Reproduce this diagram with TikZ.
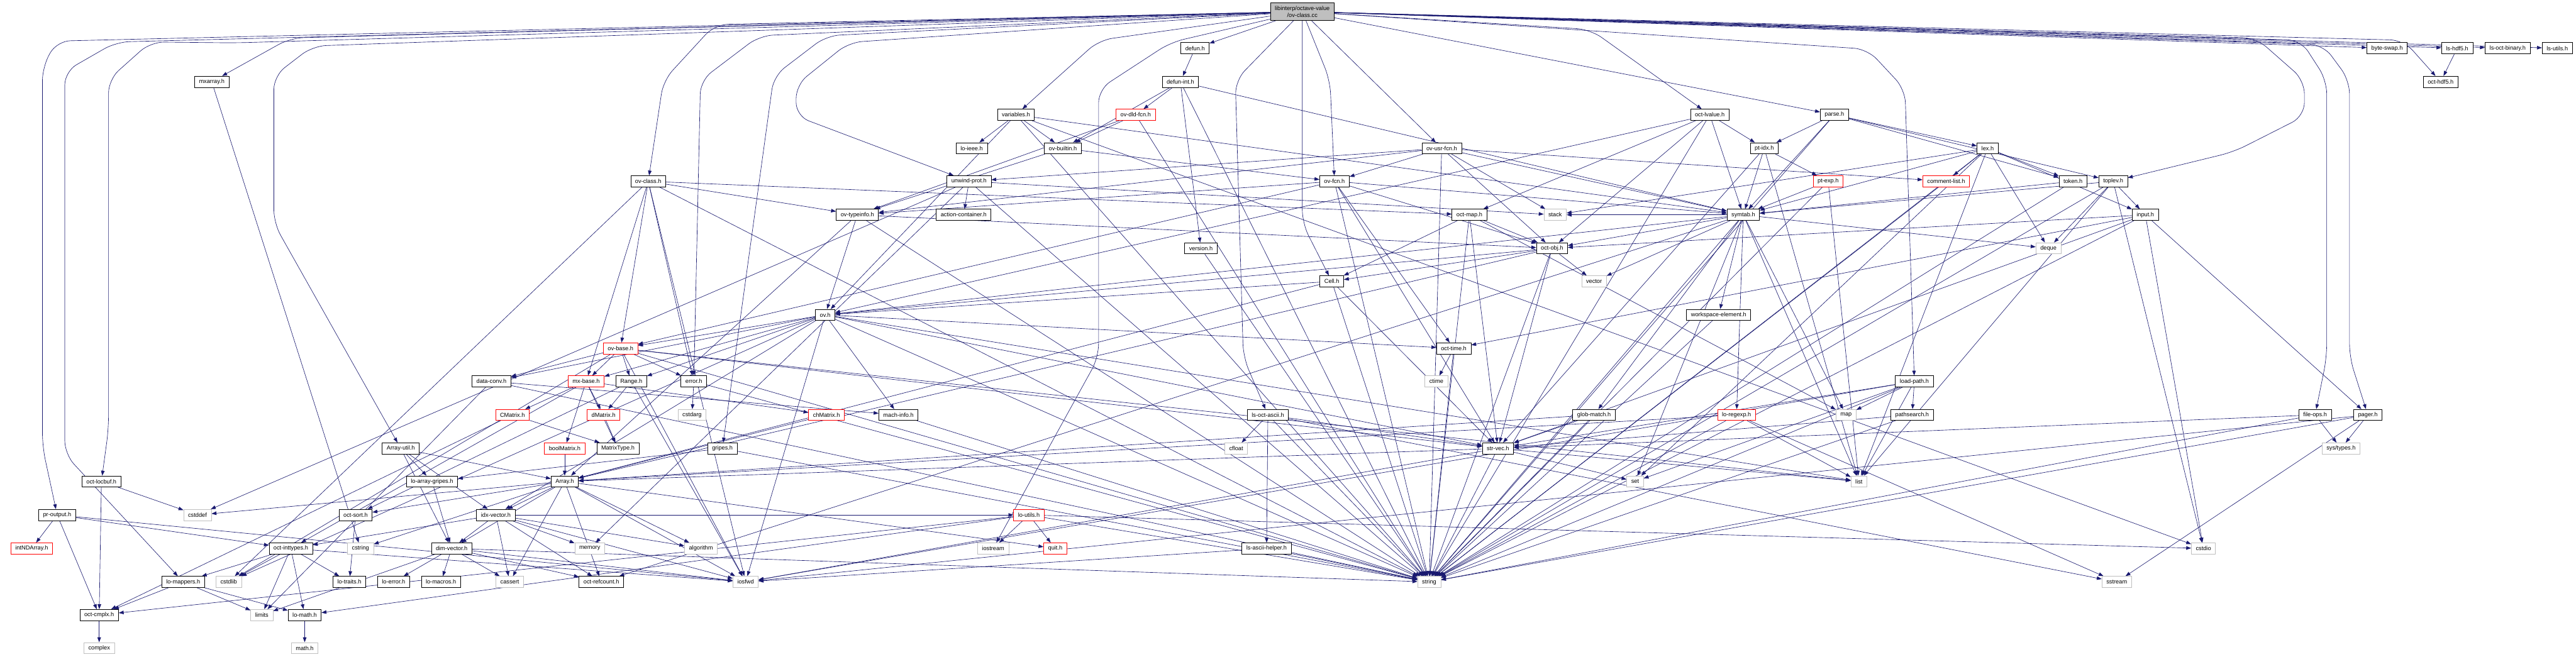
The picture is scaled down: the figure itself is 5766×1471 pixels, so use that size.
\documentclass[tikz,border=0pt]{standalone}
\usepackage{fontspec}
\setmainfont{Liberation Sans}
\usepackage{tikz}
\definecolor{edgeblue}{RGB}{25,25,112}
\definecolor{sysgray}{RGB}{191,191,191}
\definecolor{rootgray}{RGB}{191,191,191}
\usetikzlibrary{arrows.meta,backgrounds}

\begin{document}
\begin{tikzpicture}[x=1pt,y=-1pt]
		\tikzstyle{hdr}=[rectangle,draw=black,line width=1pt,fill=white,
		minimum height=25pt,inner xsep=10pt,inner ysep=0pt,
		font=\fontsize{13}{15}\selectfont]
		\tikzstyle{sys}=[hdr,draw=sysgray]
		\tikzstyle{trunc}=[hdr,draw=red]
		\tikzstyle{dep}=[draw=edgeblue,line width=0.9pt,-{Triangle[length=11pt,width=8pt]}]
		\tikzstyle{route}=[dep,rounded corners=30pt]
		\useasboundingbox (0,0) rectangle (5766,1471);
		% top ranks
		\node[hdr,fill=rootgray,align=center,inner ysep=4pt,minimum height=40pt] (root) at (2915,26) {libinterp/octave-value\\/ov-class.cc};
		\node[hdr] (defun) at (2675,108) {defun.h};
		\node[hdr] (byteswap) at (5343,108) {byte-swap.h};
		\node[hdr] (lshdf) at (5500,108) {ls-hdf5.h};
		\node[hdr] (lsoctbin) at (5613,108) {ls-oct-binary.h};
		\node[hdr] (lsutils) at (5724,108) {ls-utils.h};
		\node[hdr] (mxarray) at (474,183) {mxarray.h};
		\node[hdr] (defunint) at (2642,183) {defun-int.h};
		\node[hdr] (octhdf) at (5463,183) {oct-hdf5.h};
		\node[hdr] (variables) at (2274,257) {variables.h};
		\node[trunc] (ovdldfcn) at (2542,257) {ov-dld-fcn.h};
		\node[hdr] (octlvalue) at (3827,257) {oct-lvalue.h};
		\node[hdr] (parse) at (4106,257) {parse.h};
		\node[hdr] (loieee) at (2175,332) {lo-ieee.h};
		\node[hdr] (ovbuiltin) at (2379,332) {ov-builtin.h};
		\node[hdr] (ovusrfcn) at (3227,332) {ov-usr-fcn.h};
		\node[hdr] (ptidx) at (3949,332) {pt-idx.h};
		\node[hdr] (lex) at (4449,332) {lex.h};
		\node[hdr] (ovclass) at (1451,406) {ov-class.h};
		\node[hdr] (unwindprot) at (2169,406) {unwind-prot.h};
		\node[hdr] (ovfcn) at (2987,406) {ov-fcn.h};
		\node[trunc] (ptexp) at (4092,406) {pt-exp.h};
		\node[trunc] (commentlist) at (4356,406) {comment-list.h};
		\node[hdr] (token) at (4640,406) {token.h};
		\node[hdr] (toplev) at (4730,406) {toplev.h};
		\node[hdr] (ovtypeinfo) at (1919,481) {ov-typeinfo.h};
		\node[hdr] (actioncont) at (2157,481) {action-container.h};
		\node[hdr] (octmap) at (3289,481) {oct-map.h};
		\node[sys] (stack) at (3481,481) {stack};
		\node[hdr] (symtab) at (3902,481) {symtab.h};
		\node[hdr] (input) at (4802,481) {input.h};
		\node[hdr] (version) at (2688,556) {version.h};
		\node[hdr] (octobj) at (3474,556) {oct-obj.h};
		\node[sys] (deque) at (4585,556) {deque};
		\node[hdr] (cell) at (2981,630) {Cell.h};
		\node[sys] (vector) at (3568,630) {vector};
		\node[hdr] (ovh) at (1847,705) {ov.h};
		\node[hdr] (wselem) at (3847,705) {workspace-element.h};
		% middle ranks
		\node[trunc] (ovbase) at (1389,780) {ov-base.h};
		\node[hdr] (octtime) at (3254,780) {oct-time.h};
		\node[hdr] (dataconv) at (1100,854) {data-conv.h};
		\node[trunc] (mxbase) at (1312,854) {mx-base.h};
		\node[hdr] (range) at (1413,854) {Range.h};
		\node[hdr] (error) at (1553,854) {error.h};
		\node[sys] (ctime) at (3215,854) {ctime};
		\node[hdr] (loadpath) at (4285,854) {load-path.h};
		\node[trunc] (cmatrix) at (1147,929) {CMatrix.h};
		\node[trunc] (dmatrix) at (1351,929) {dMatrix.h};
		\node[sys] (cstdarg) at (1549,929) {cstdarg};
		\node[trunc] (chmatrix) at (1850,929) {chMatrix.h};
		\node[hdr] (machinfo) at (2011,929) {mach-info.h};
		\node[hdr] (lsoctascii) at (2838,929) {ls-oct-ascii.h};
		\node[hdr] (globmatch) at (3568,929) {glob-match.h};
		\node[trunc] (loregexp) at (3887,929) {lo-regexp.h};
		\node[sys] (map) at (4132,929) {map};
		\node[hdr] (pathsearch) at (4280,929) {pathsearch.h};
		\node[hdr] (fileops) at (5182,929) {file-ops.h};
		\node[hdr] (pager) at (5300,929) {pager.h};
		\node[hdr] (arrayutil) at (897,1004) {Array-util.h};
		\node[trunc] (boolmatrix) at (1264,1004) {boolMatrix.h};
		\node[hdr] (matrixtype) at (1383,1004) {MatrixType.h};
		\node[hdr] (gripes) at (1617,1004) {gripes.h};
		\node[sys] (cfloat) at (2767,1004) {cfloat};
		\node[hdr] (strvec) at (3353,1004) {str-vec.h};
		\node[sys] (systypes) at (5240,1004) {sys/types.h};
		\node[hdr] (octlocbuf) at (227,1078) {oct-locbuf.h};
		\node[hdr] (loarraygripes) at (967,1078) {lo-array-gripes.h};
		\node[hdr] (array) at (1264,1078) {Array.h};
		\node[sys] (set) at (3660,1078) {set};
		\node[sys] (list) at (4161,1078) {list};
		% bottom ranks
		\node[hdr] (proutput) at (128,1153) {pr-output.h};
		\node[sys] (cstddef) at (442,1153) {cstddef};
		\node[hdr] (octsort) at (796,1153) {oct-sort.h};
		\node[hdr] (idxvector) at (1110,1153) {idx-vector.h};
		\node[trunc] (loutils) at (2303,1153) {lo-utils.h};
		\node[trunc] (intndarray) at (71,1228) {intNDArray.h};
		\node[hdr] (octinttypes) at (651,1228) {oct-inttypes.h};
		\node[sys] (cstring) at (807,1228) {cstring};
		\node[hdr] (dimvector) at (1011,1228) {dim-vector.h};
		\node[sys] (memory) at (1320,1228) {memory};
		\node[sys] (algorithm) at (1569,1228) {algorithm};
		\node[sys] (iostream) at (2223,1228) {iostream};
		\node[trunc] (quit) at (2362,1228) {quit.h};
		\node[hdr] (lsasciihelper) at (2835,1228) {ls-ascii-helper.h};
		\node[sys] (cstdio) at (4932,1228) {cstdio};
		\node[hdr] (lomappers) at (410,1303) {lo-mappers.h};
		\node[sys] (cstdlib) at (512,1303) {cstdlib};
		\node[hdr] (lotraits) at (782,1303) {lo-traits.h};
		\node[hdr] (loerror) at (881,1303) {lo-error.h};
		\node[hdr] (lomacros) at (987,1303) {lo-macros.h};
		\node[sys] (cassert) at (1141,1303) {cassert};
		\node[hdr] (octrefcount) at (1346,1303) {oct-refcount.h};
		\node[sys] (iosfwd) at (1669,1303) {iosfwd};
		\node[sys] (string) at (3199,1303) {string};
		\node[sys] (sstream) at (4738,1303) {sstream};
		\node[hdr] (octcmplx) at (222,1377) {oct-cmplx.h};
		\node[sys] (limits) at (586,1377) {limits};
		\node[hdr] (lomath) at (682,1377) {lo-math.h};
		\node[sys] (complex) at (222,1451) {complex};
		\node[sys] (mathh) at (682,1451) {math.h};
		\begin{scope}[on background layer]
		\fill[white] (0,0) rectangle (5766,1471);
		% includes of the source file
		\draw[route] (root) -- (650,85) -- (mxarray);
		\draw[route] (root) -- (127,92) -- (95,150) -- (95,1000) -- (proutput);
		\draw[route] (root) -- (260,94) -- (145,160) -- (145,1017) -- (lomappers);
		\draw[route] (root) -- (527,96) -- (337,94) -- (243,178) -- (243,960) -- (octlocbuf);
		\draw[route] (root) -- (700,103) -- (613,170) -- (613,500) -- (arrayutil);
		\draw[route] (root) -- (1600,55) -- (1485,180) -- (ovclass);
		\draw[route] (root) -- (1700,80) -- (1568,180) -- (error);
		\draw[route] (root) -- (1850,80) -- (1732,170) -- (gripes);
		\draw[route] (root) -- (1900,95) -- (1782,190) -- (1782,260) -- (unwindprot);
		\draw[route] (root) -- (2460,90) -- (variables);
		\draw[route] (root) -- (2620,95) -- (2459,200) -- (2459,800) -- (iostream);
		\draw[dep] (root) -- (defun);
		\draw[route] (root) -- (2765,180) -- (2783,800) -- (lsoctascii);
		\draw[route] (root) -- (2915,500) -- (cell);
		\draw[route] (root) -- (2977,180) -- (ovfcn);
		\draw[dep] (root) -- (ovusrfcn);
		\draw[route] (root) -- (3560,66) -- (octlvalue);
		\draw[dep] (root) -- (parse);
		\draw[route] (root) -- (4180,110) -- (4264,200) -- (loadpath);
		\draw[route] (root) -- (5050,85) -- (5158,180) -- (5158,260) -- (5000,340) -- (toplev);
		\draw[route] (root) -- (5150,90) -- (5208,180) -- (5208,800) -- (fileops);
		\draw[route] (root) -- (5200,100) -- (5259,180) -- (5259,800) -- (pager);
		\draw[dep] (root) -- (byteswap);
		\draw[dep] (root) -- (lshdf);
		\draw[dep] (root) -- (lsoctbin);
		\draw[dep] (root) -- (lsutils);
		\draw[route] (root) -- (5380,90) -- (octhdf);
		% interpreter headers
		\draw[dep] (mxarray) -- (cstring);
		\draw[dep] (lshdf) -- (octhdf);
		\draw[dep] (defun) -- (defunint);
		\draw[dep] (defunint) -- (ovdldfcn);
		\draw[dep] (defunint) -- (ovbuiltin);
		\draw[dep] (defunint) -- (version);
		\draw[dep] (defunint) -- (string);
		\draw[dep] (defunint) -- (symtab);
		\draw[dep] (version) -- (string);
		\draw[dep] (ovdldfcn) -- (ovbuiltin);
		\draw[dep] (ovdldfcn) -- (ovtypeinfo);
		\draw[dep] (ovdldfcn) -- (string);
		\draw[dep] (variables) -- (loieee);
		\draw[dep] (variables) -- (ovbuiltin);
		\draw[dep] (variables) -- (ovh);
		\draw[dep] (variables) -- (string);
		\draw[dep] (variables) -- (symtab);
		\draw[dep] (variables) -- (cstdio);
		\draw[dep] (ovbuiltin) -- (ovfcn);
		\draw[dep] (ovbuiltin) -- (ovtypeinfo);
		\draw[dep] (unwindprot) -- (actioncont);
		\draw[dep] (unwindprot) -- (cstddef);
		\draw[dep] (unwindprot) -- (string);
		\draw[dep] (unwindprot) -- (stack);
		\draw[dep] (unwindprot) -- (memory);
		\draw[dep] (ovclass) -- (ovtypeinfo);
		\draw[dep] (ovclass) -- (ovbase);
		\draw[dep] (ovclass) -- (mxbase);
		\draw[dep] (ovclass) -- (octmap);
		\draw[dep] (ovclass) -- (cstdlib);
		\draw[dep] (ovclass) -- (iosfwd);
		\draw[dep] (ovclass) -- (string);
		\draw[dep] (ovclass) -- (error);
		\draw[dep] (ovtypeinfo) -- (ovh);
		\draw[dep] (ovtypeinfo) -- (array);
		\draw[dep] (ovtypeinfo) -- (octobj);
		\draw[dep] (ovtypeinfo) -- (string);
		\draw[dep] (ovusrfcn) -- (ovfcn);
		\draw[dep] (ovusrfcn) -- (octobj);
		\draw[dep] (ovusrfcn) -- (stack);
		\draw[dep] (ovusrfcn) -- (string);
		\draw[dep] (ovusrfcn) -- (symtab);
		\draw[dep] (ovusrfcn) -- (unwindprot);
		\draw[dep] (ovusrfcn) -- (ovtypeinfo);
		\draw[dep] (ovusrfcn) -- (commentlist);
		\draw[dep] (ovfcn) -- (octobj);
		\draw[dep] (ovfcn) -- (ovbase);
		\draw[dep] (ovfcn) -- (ovtypeinfo);
		\draw[dep] (ovfcn) -- (symtab);
		\draw[dep] (ovfcn) -- (string);
		\draw[dep] (ovfcn) -- (strvec);
		\draw[dep] (ovfcn) -- (octtime);
		\draw[dep] (octmap) -- (cell);
		\draw[dep] (octmap) -- (octobj);
		\draw[dep] (octmap) -- (strvec);
		\draw[dep] (octmap) -- (map);
		\draw[dep] (octmap) -- (string);
		\draw[dep] (octobj) -- (vector);
		\draw[dep] (octobj) -- (cell);
		\draw[dep] (octobj) -- (ovh);
		\draw[dep] (octobj) -- (strvec);
		\draw[dep] (octobj) -- (string);
		\draw[dep] (octobj) -- (array);
		\draw[dep] (cell) -- (ovh);
		\draw[dep] (cell) -- (array);
		\draw[dep] (cell) -- (strvec);
		\draw[dep] (cell) -- (string);
		\draw[dep] (octlvalue) -- (ptidx);
		\draw[dep] (octlvalue) -- (symtab);
		\draw[dep] (octlvalue) -- (octobj);
		\draw[dep] (octlvalue) -- (ovh);
		\draw[dep] (octlvalue) -- (string);
		\draw[dep] (octlvalue) -- (octmap);
		\draw[dep] (parse) -- (lex);
		\draw[dep] (parse) -- (token);
		\draw[dep] (parse) -- (symtab);
		\draw[dep] (parse) -- (string);
		\draw[dep] (parse) -- (toplev);
		\draw[dep] (parse) -- (ptidx);
		\draw[dep] (lex) -- (commentlist);
		\draw[dep] (lex) -- (token);
		\draw[dep] (lex) -- (deque);
		\draw[dep] (lex) -- (input);
		\draw[dep] (lex) -- (list);
		\draw[dep] (lex) -- (string);
		\draw[dep] (lex) -- (stack);
		\draw[dep] (lex) -- (symtab);
		\draw[dep] (lex) -- (set);
		\draw[dep] (ptidx) -- (ptexp);
		\draw[dep] (ptidx) -- (symtab);
		\draw[dep] (ptidx) -- (list);
		\draw[dep] (ptidx) -- (strvec);
		\draw[dep] (ptexp) -- (symtab);
		\draw[dep] (ptexp) -- (string);
		\draw[dep] (ptexp) -- (list);
		\draw[dep] (commentlist) -- (string);
		\draw[dep] (token) -- (symtab);
		\draw[dep] (token) -- (string);
		\draw[dep] (toplev) -- (deque);
		\draw[dep] (toplev) -- (input);
		\draw[dep] (toplev) -- (string);
		\draw[dep] (toplev) -- (cstdio);
		\draw[dep] (toplev) -- (list);
		\draw[dep] (toplev) -- (symtab);
		\draw[dep] (input) -- (cstdio);
		\draw[dep] (input) -- (string);
		\draw[dep] (input) -- (strvec);
		\draw[dep] (input) -- (octtime);
		\draw[dep] (input) -- (pager);
		\draw[dep] (input) -- (octobj);
		\draw[dep] (symtab) -- (wselem);
		\draw[dep] (symtab) -- (deque);
		\draw[dep] (symtab) -- (octobj);
		\draw[dep] (symtab) -- (ovh);
		\draw[dep] (symtab) -- (stack);
		\draw[dep] (symtab) -- (vector);
		\draw[dep] (symtab) -- (globmatch);
		\draw[dep] (symtab) -- (loregexp);
		\draw[dep] (symtab) -- (map);
		\draw[dep] (symtab) -- (list);
		\draw[dep] (symtab) -- (set);
		\draw[dep] (symtab) -- (string);
		\draw[dep] (symtab) -- (octrefcount);
		\draw[dep] (wselem) -- (string);
		% octave_value and friends
		\draw[dep] (ovh) -- (range);
		\draw[dep] (ovh) -- (dataconv);
		\draw[dep] (ovh) -- (idxvector);
		\draw[dep] (ovh) -- (machinfo);
		\draw[dep] (ovh) -- (mxbase);
		\draw[dep] (ovh) -- (octtime);
		\draw[dep] (ovh) -- (strvec);
		\draw[dep] (ovh) -- (ovbase);
		\draw[dep] (ovh) -- (cstdlib);
		\draw[dep] (ovh) -- (iosfwd);
		\draw[dep] (ovh) -- (string);
		\draw[dep] (ovh) -- (list);
		\draw[dep] (ovbase) -- (dataconv);
		\draw[dep] (ovbase) -- (mxbase);
		\draw[dep] (ovbase) -- (range);
		\draw[dep] (ovbase) -- (error);
		\draw[dep] (ovbase) -- (iosfwd);
		\draw[dep] (ovbase) -- (strvec);
		\draw[dep] (ovbase) -- (string);
		\draw[dep] (ovbase) -- (list);
		\draw[dep] (ovbase) -- (cstdlib);
		\draw[dep] (octtime) -- (ctime);
		\draw[dep] (octtime) -- (string);
		\draw[dep] (dataconv) -- (machinfo);
		\draw[dep] (dataconv) -- (limits);
		\draw[dep] (dataconv) -- (string);
		\draw[dep] (mxbase) -- (cmatrix);
		\draw[dep] (mxbase) -- (dmatrix);
		\draw[dep] (mxbase) -- (boolmatrix);
		\draw[dep] (mxbase) -- (matrixtype);
		\draw[dep] (mxbase) -- (chmatrix);
		\draw[dep] (mxbase) -- (octinttypes);
		\draw[dep] (range) -- (dmatrix);
		\draw[dep] (range) -- (octsort);
		\draw[dep] (range) -- (iosfwd);
		\draw[dep] (error) -- (cstdarg);
		\draw[dep] (error) -- (string);
		\draw[dep] (cmatrix) -- (matrixtype);
		\draw[dep] (cmatrix) -- (octcmplx);
		\draw[dep] (dmatrix) -- (matrixtype);
		\draw[dep] (boolmatrix) -- (array);
		\draw[dep] (chmatrix) -- (array);
		\draw[dep] (gripes) -- (loarraygripes);
		\draw[dep] (gripes) -- (string);
		\draw[dep] (machinfo) -- (string);
		% load/save and path headers
		\draw[dep] (loadpath) -- (map);
		\draw[dep] (loadpath) -- (list);
		\draw[dep] (loadpath) -- (pathsearch);
		\draw[dep] (loadpath) -- (strvec);
		\draw[dep] (loadpath) -- (string);
		\draw[dep] (loadpath) -- (set);
		\draw[dep] (loadpath) -- (iosfwd);
		\draw[dep] (pathsearch) -- (strvec);
		\draw[dep] (pathsearch) -- (string);
		\draw[dep] (fileops) -- (systypes);
		\draw[dep] (fileops) -- (strvec);
		\draw[dep] (fileops) -- (string);
		\draw[dep] (pager) -- (systypes);
		\draw[dep] (pager) -- (sstream);
		\draw[dep] (pager) -- (iosfwd);
		\draw[dep] (pager) -- (string);
		\draw[dep] (lsoctascii) -- (cfloat);
		\draw[dep] (lsoctascii) -- (lsasciihelper);
		\draw[dep] (lsoctascii) -- (sstream);
		\draw[dep] (lsoctascii) -- (string);
		\draw[dep] (lsoctascii) -- (strvec);
		\draw[dep] (lsasciihelper) -- (iosfwd);
		\draw[dep] (lsasciihelper) -- (string);
		\draw[dep] (globmatch) -- (strvec);
		\draw[dep] (globmatch) -- (string);
		\draw[dep] (globmatch) -- (array);
		\draw[dep] (loregexp) -- (list);
		\draw[dep] (loregexp) -- (sstream);
		\draw[dep] (loregexp) -- (string);
		\draw[dep] (loregexp) -- (array);
		\draw[dep] (strvec) -- (string);
		\draw[dep] (strvec) -- (set);
		\draw[dep] (strvec) -- (iosfwd);
		\draw[dep] (strvec) -- (list);
		\draw[dep] (strvec) -- (array);
		\draw[dep] (loutils) -- (iostream);
		\draw[dep] (loutils) -- (quit);
		\draw[dep] (loutils) -- (string);
		\draw[dep] (loutils) -- (cstdio);
		\draw[dep] (loutils) -- (octcmplx);
		\draw[dep] (loutils) -- (lomath);
		% liboctave array headers
		\draw[dep] (arrayutil) -- (loarraygripes);
		\draw[dep] (arrayutil) -- (array);
		\draw[dep] (arrayutil) -- (dimvector);
		\draw[dep] (arrayutil) -- (idxvector);
		\draw[dep] (array) -- (idxvector);
		\draw[dep] (array) -- (dimvector);
		\draw[dep] (array) -- (cassert);
		\draw[dep] (array) -- (octrefcount);
		\draw[dep] (array) -- (iosfwd);
		\draw[dep] (array) -- (algorithm);
		\draw[dep] (array) -- (cstddef);
		\draw[dep] (array) -- (octsort);
		\draw[dep] (array) -- (cstring);
		\draw[dep] (array) -- (quit);
		\draw[dep] (loarraygripes) -- (dimvector);
		\draw[dep] (idxvector) -- (dimvector);
		\draw[dep] (idxvector) -- (cassert);
		\draw[dep] (idxvector) -- (memory);
		\draw[dep] (idxvector) -- (algorithm);
		\draw[dep] (idxvector) -- (octrefcount);
		\draw[dep] (idxvector) -- (iosfwd);
		\draw[dep] (idxvector) -- (octinttypes);
		\draw[dep] (idxvector) -- (loutils);
		\draw[dep] (dimvector) -- (lomacros);
		\draw[dep] (dimvector) -- (cassert);
		\draw[dep] (dimvector) -- (octrefcount);
		\draw[dep] (dimvector) -- (iosfwd);
		\draw[dep] (dimvector) -- (loerror);
		\draw[dep] (dimvector) -- (string);
		\draw[dep] (dimvector) -- (limits);
		\draw[dep] (octlocbuf) -- (cstddef);
		\draw[dep] (octlocbuf) -- (octcmplx);
		\draw[dep] (proutput) -- (intndarray);
		\draw[dep] (proutput) -- (octcmplx);
		\draw[dep] (proutput) -- (octinttypes);
		\draw[dep] (proutput) -- (iosfwd);
		\draw[dep] (octsort) -- (lotraits);
		\draw[dep] (octinttypes) -- (lomappers);
		\draw[dep] (octinttypes) -- (cstdlib);
		\draw[dep] (octinttypes) -- (limits);
		\draw[dep] (octinttypes) -- (lomath);
		\draw[dep] (octinttypes) -- (lotraits);
		\draw[dep] (octinttypes) -- (iosfwd);
		\draw[dep] (lomappers) -- (octcmplx);
		\draw[dep] (lomappers) -- (limits);
		\draw[dep] (lomappers) -- (lomath);
		\draw[dep] (octcmplx) -- (complex);
		\draw[dep] (lomath) -- (mathh);
		\end{scope}
	\end{tikzpicture}
\end{document}
